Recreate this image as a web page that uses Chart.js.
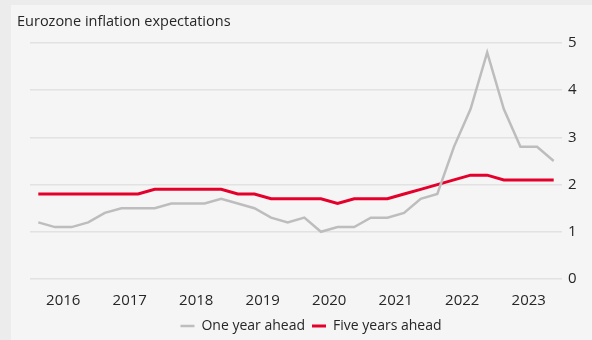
<!DOCTYPE html>
<html>
<head>
<meta charset="utf-8">
<script src="https://cdn.jsdelivr.net/npm/chart.js@4.4.1/dist/chart.umd.min.js"></script>
<style>
  html, body { margin: 0; padding: 0; width: 592px; height: 340px; overflow: hidden; background: #ececec; }
  #panel { position: absolute; left: 11px; top: 5px; width: 581px; height: 338px; background: #f5f5f5; }
  #title { position: absolute; left: 6px; top: 6px; font: 14.5px "Open Sans", sans-serif; color: #262626; }
  #wrap { position: absolute; left: 0; top: 0; width: 581px; height: 338px; }
</style>
</head>
<body>
<div id="panel">
  <div id="wrap"><canvas id="lineChart"></canvas></div>
  <div id="title">Eurozone inflation expectations</div>
</div>
<script>
// quarterly survey readings, Q3 2015 .. Q2 2023
const quarters = [
  "2015Q3", "2015Q4", "2016Q1", "2016Q2", "2016Q3", "2016Q4",
  "2017Q1", "2017Q2", "2017Q3", "2017Q4", "2018Q1", "2018Q2",
  "2018Q3", "2018Q4", "2019Q1", "2019Q2", "2019Q3", "2019Q4",
  "2020Q1", "2020Q2", "2020Q3", "2020Q4", "2021Q1", "2021Q2",
  "2021Q3", "2021Q4", "2022Q1", "2022Q2", "2022Q3", "2022Q4",
  "2023Q1", "2023Q2"
];
const oneYearAhead = [
  1.2, 1.1, 1.1, 1.2, 1.4, 1.5, 1.5, 1.5, 1.6, 1.6, 1.6, 1.7,
  1.6, 1.5, 1.3, 1.2, 1.3, 1.0, 1.1, 1.1, 1.3, 1.3, 1.4, 1.7,
  1.8, 2.8, 3.6, 4.8, 3.6, 2.8, 2.8, 2.5
];
const fiveYearsAhead = [
  1.8, 1.8, 1.8, 1.8, 1.8, 1.8, 1.8, 1.9, 1.9, 1.9, 1.9, 1.9,
  1.8, 1.8, 1.7, 1.7, 1.7, 1.7, 1.6, 1.7, 1.7, 1.7, 1.8, 1.9,
  2.0, 2.1, 2.2, 2.2, 2.1, 2.1, 2.1, 2.1
];
const yearTicks = [2016, 2017, 2018, 2019, 2020, 2021, 2022, 2023];
const yTicks = [0, 1, 2, 3, 4, 5];

// place each quarter at its midpoint on a fractional-year axis
const quarterPos = quarters.map(q => Number(q.slice(0, 4)) + (Number(q.slice(5)) - 0.5) / 4);
const toPoints = vals => vals.map((v, i) => ({ x: quarterPos[i], y: v }));

const font = "'Open Sans', sans-serif";

const ctx = document.getElementById('lineChart').getContext('2d');
const lineChart = new Chart(ctx, {
  type: 'line',
  data: {
    datasets: [{
      label: 'One year ahead',
      data: toPoints(oneYearAhead),
      borderColor: '#bdbdbd',
      backgroundColor: '#bdbdbd',
      borderWidth: 2.5,
      pointRadius: 0,
      pointStyle: 'line',
      tension: 0
    }, {
      label: 'Five years ahead',
      data: toPoints(fiveYearsAhead),
      borderColor: '#e4002b',
      backgroundColor: '#e4002b',
      borderWidth: 3,
      pointRadius: 0,
      pointStyle: 'line',
      tension: 0
    }]
  },
  options: {
    responsive: true,
    maintainAspectRatio: false,
    animation: false,
    layout: { padding: { left: 19, right: 0, top: 38, bottom: 0 } },
    plugins: {
      tooltip: { enabled: false },
      legend: {
        position: 'bottom',
        labels: {
          usePointStyle: true,
          pointStyleWidth: 14,
          padding: 7,
          color: '#262626',
          font: { family: font, size: 14 }
        }
      }
    },
    scales: {
      x: {
        type: 'linear',
        min: 2015.5,
        max: 2023.5,
        afterBuildTicks: s => { s.ticks = yearTicks.map(v => ({ value: v })); },
        afterFit: s => { s.height = 33; },
        grid: { display: false },
        border: { display: false },
        ticks: {
          padding: 5,
          maxRotation: 0,
          color: '#262626',
          font: { family: font, size: 15 },
          callback: v => String(v)
        }
      },
      y: {
        position: 'right',
        min: 0,
        max: 5,
        afterBuildTicks: s => { s.ticks = yTicks.map(v => ({ value: v })); },
        afterFit: s => { s.width = 30; },
        grid: { color: '#e2e2e2', lineWidth: 1.5, drawTicks: false },
        border: { display: false },
        ticks: {
          padding: 6,
          color: '#262626',
          font: { family: font, size: 15 }
        }
      }
    }
  }
});
</script>
</body>
</html>
